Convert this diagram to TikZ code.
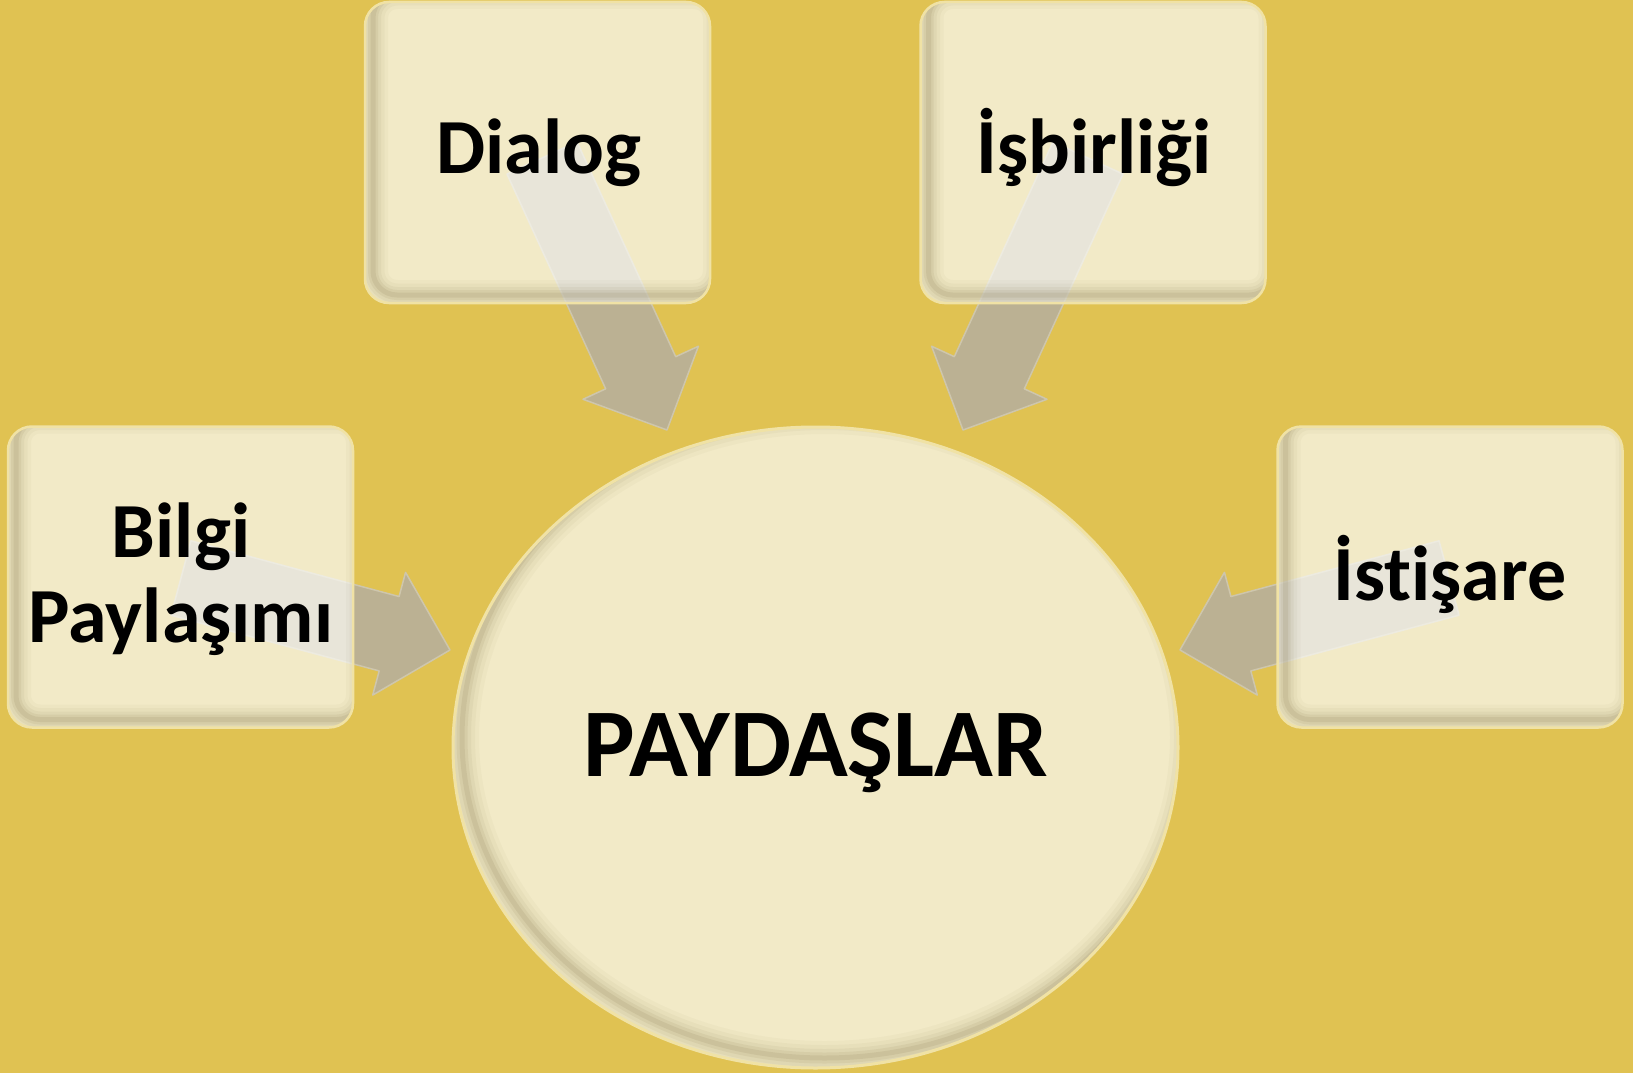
\documentclass[tikz,border=0pt]{standalone}
\usepackage{fontspec}
\setmainfont{Carlito}[Ligatures={NoCommon,NoRare,NoDiscretionary},Contextuals=NoAlternate]
\usetikzlibrary{shapes.geometric,calc}
\definecolor{bgc}{RGB}{224,194,82}
\definecolor{boxfill}{RGB}{250,250,245}
\definecolor{rimc}{RGB}{240,226,165}
\definecolor{arrowfill}{RGB}{187,177,147}
\definecolor{arrowedge}{RGB}{206,198,172}
\definecolor{shadec}{RGB}{110,95,50}
\newcommand{\blockarrow}[2]{%
  \coordinate (ab) at ($(#2)!63pt!(#1)$);
  \filldraw[arrowstyle] ($(#1)!38.5pt!90:(#2)$) -- ($(ab)!38.5pt!90:(#2)$) -- ($(ab)!63.5pt!90:(#2)$) -- (#2) -- ($(ab)!63.5pt!-90:(#2)$) -- ($(ab)!38.5pt!-90:(#2)$) -- ($(#1)!38.5pt!-90:(#2)$) -- cycle;}
\tikzset{
  arrowstyle/.style={fill=arrowfill, draw=arrowedge, line width=1.5pt, line join=round},
  softbox/.style={rectangle, rounded corners=24pt, fill=boxfill, fill opacity=0.72,
    draw=rimc, line width=2.5pt, minimum width=345pt, minimum height=301pt, inner sep=0pt,
    path picture={
      \foreach \w/\o in {30/0.035,23/0.045,16/0.06,10/0.08,5/0.1}{
        \draw[shadec, draw opacity=\o, line width=\w pt, rounded corners=24pt]
          ([shift={(8pt,8pt)}]path picture bounding box.south west) rectangle
          ([shift={(8pt,8pt)}]path picture bounding box.north east);
      }}},
  softcirc/.style={ellipse, fill=boxfill, fill opacity=0.72, draw=rimc, line width=3pt,
    minimum width=725pt, minimum height=641pt, inner sep=0pt,
    path picture={
      \foreach \w/\o in {34/0.035,26/0.045,18/0.06,11/0.08,5/0.1}{
        \draw[shadec, draw opacity=\o, line width=\w pt]
          ([shift={(9pt,10pt)}]path picture bounding box.center) ellipse [x radius=362.5pt, y radius=320.5pt];
      }}},
  lbl/.style={font=\fontsize{78}{82}\selectfont\bfseries, inner sep=0pt, text=black},
  biglbl/.style={font=\fontsize{97}{100}\selectfont\bfseries, inner sep=0pt, text=black}
}
\begin{document}
\begin{tikzpicture}[x=1pt,y=-1pt]
\fill[bgc] (0,0) rectangle (1633,1073);
\useasboundingbox (0,0) rectangle (1633,1073);
% arrow end points
\coordinate (dS) at (542,158);  \coordinate (dT) at (667,430);
\coordinate (iS) at (1088,158); \coordinate (iT) at (963,430);
\coordinate (bS) at (181,578);  \coordinate (bT) at (450,650);
\coordinate (sS) at (1449,578); \coordinate (sT) at (1180,650);
% arrows (under the translucent boxes)
\blockarrow{dS}{dT}
\blockarrow{iS}{iT}
\blockarrow{bS}{bT}
\blockarrow{sS}{sT}
% boxes
\node[softbox] (dlg) at (537.5,152.5) {};
\node[softbox] (isb) at (1093,152.5) {};
\node[softbox] (bil) at (180.5,577) {};
\node[softbox] (ist) at (1450,577) {};
\node[softcirc] (pay) at (815.5,747.5) {};
% labels
\node[lbl, anchor=base] (dlgT) at (539,173) {Dialog};
\node[lbl, anchor=base] (isbT) at (1094,173) {İşbirliği};
\node[lbl, anchor=base] (bilT1) at (181,557) {Bilgi};
\node[lbl, anchor=base] (bilT2) at (181,642) {Paylaşımı};
\node[lbl, anchor=base] (istT) at (1450,600) {İst\kern0pt{}işare};
\node[biglbl, anchor=base] (payT) at (816,776) {PAYDAŞLAR};
\end{tikzpicture}
\end{document}
